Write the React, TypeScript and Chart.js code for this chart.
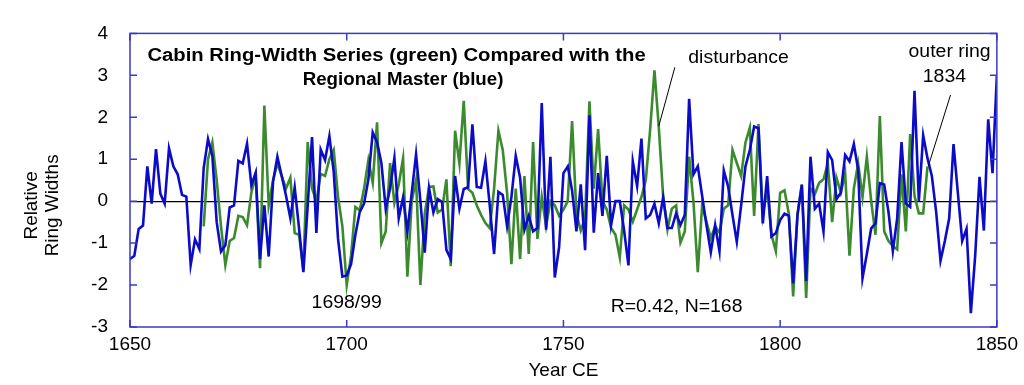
import React, { useEffect, useRef } from 'react';
import { Chart, registerables } from 'chart.js';

Chart.register(...registerables);

// Regional master chronology (blue), 1650-1850
const BLUE_START_YEAR = 1650;
const masterBlue = [
  -1.38, -1.3, -0.66, -0.58, 0.83, -0.06, 1.24, 0.18, -0.06, 1.26,
  0.83, 0.64, 0.15, 0.11, -1.52, -0.91, -1.14, 0.79, 1.48, 1.08,
  -0.5, -1.2, -1.05, -0.15, -0.1, 0.96, 0.9, 1.37, 0.38, 0.68,
  -1.38, -0.1, -1.32, 0.46, 1.06, 0.6, 0.13, -0.41, 0.33, -0.64,
  -1.69, -0.1, 1.53, -0.76, 1.23, 0.98, 1.55, 0.7, -0.9, -1.8,
  -1.77, -1.5, -0.8, -0.26, -0.06, 0.52, 1.64, 1.4, 0.91, -0.18,
  0.3, 1.03, -0.41, 0.09, -0.72, 0.2, 1.12, 0.0, -1.23, 0.31,
  -0.27, 0.05, -0.02, -1.16, -1.38, 0.6, -0.18, 0.29, 0.33, 1.83,
  0.34, 0.32, 0.95, -0.1, -1.26, 0.22, 0.15, -0.6, 0.1, 1.08,
  0.56, -0.68, -0.35, -0.72, -0.64, 2.34, -0.68, 1.06, -1.82, -1.1,
  0.67, 0.83, 0.25, -0.72, 0.4, -1.17, 2.05, -0.75, 0.67, -0.35,
  1.08, -0.57, 0.0, 0.0, -0.7, -1.53, 0.95, 0.36, 1.49, -0.41,
  -0.33, -0.06, -0.53, 0.09, -0.64, -0.64, -0.29, -0.57, -0.33, 2.44,
  0.64, 0.83, 0.13, -0.57, -1.22, -0.57, -1.19, 0.73, 0.35, -0.33,
  -0.97, -0.1, 0.83, 1.22, 1.78, 1.74, -0.53, 0.6, -0.84, -0.76,
  -0.45, -0.3, -0.35, -1.96, -0.33, 0.39, -1.9, 1.06, -0.18, -0.06,
  -0.72, 1.17, 0.98, 0.05, 0.2, 1.1, 0.95, 1.36, 0.75, -1.84,
  -1.26, -0.65, -0.53, 0.43, 0.4, -0.26, -1.19, -0.41, 1.41, -0.06,
  -0.14, 2.63, 0.0, 1.57, 1.02, 0.6, -0.26, -1.42, -0.95, -0.41,
  1.36, 0.2, -0.95, -0.66, -2.67, -1.3, 0.58, -0.7, 1.95, 0.67,
  3.0,
];

// Cabin ring-width series (green), 1667-1834
const GREEN_START_YEAR = 1667;
const cabinGreen = [
  -0.6, 1.0, 1.4,
  0.5, -0.6, -1.52, -0.95, -0.88, -0.35, -0.38, -0.57, 0.2, 0.6,
  -1.6, 2.28, -0.1, 0.5, 0.9, 0.6, 0.3, 0.56, -0.76, -0.8,
  -1.65, 1.41, 0.3, 0.0, 0.65, 0.6, 1.0, 1.22, 0.1, -0.6,
  -2.0, -1.3, -0.14, -0.22, 0.3, 0.98, 0.44, 1.88, -1.0, -0.72,
  0.91, -0.04, 0.4, 1.02, -1.8, 0.0, 0.5, -2.0, -0.3, 0.34,
  0.35, -0.27, -0.2, 0.52, -1.55, 1.68, 0.9, 2.39, 0.29, 0.2,
  -0.1, -0.33, -0.52, -0.64, 0.3, 1.68, 1.22, 0.2, -1.5, 0.3,
  -1.38, 0.6, -1.26, 1.41, -0.9, 0.1, -0.6, 0.0, -0.1, -0.35,
  -0.2, 0.0, 1.91, -0.3, -0.7, -0.4, 2.38, 0.3, 1.72, 0.0,
  -0.2, -0.64, -0.8, -1.34, -0.1, -0.2, -0.49, -0.2, 0.1, 0.5,
  1.7, 3.12, 1.76, 0.13, -0.68, -0.18, -0.1, -0.99, -0.72, 1.06,
  -0.02, -1.69, -0.1, -0.49, -0.88, -0.6, -0.75, -0.18, -0.1, 1.22,
  0.91, 0.6, 1.4, 1.75, -0.35, 1.84, -0.33, 0.3, -0.8, -1.19,
  0.2, 0.26, -0.3, -2.27, -0.3, 0.4, -2.31, 0.3, 0.17, 0.44,
  0.52, 0.9, -0.5, 0.56, 0.2, 0.66, -1.3, 0.3, 0.9, 0.1,
  1.06, 0.0, -0.8, 2.03, -0.72, -0.95, -1.07, -1.15, 0.64, -0.72,
  1.6, 0.13, -0.29, -0.29, 0.83,
];

const xTickValues = [1650, 1700, 1750, 1800, 1850];
const yTickValues = [-3, -2, -1, 0, 1, 2, 3, 4];

const titleLines = [
  'Cabin Ring-Width Series (green) Compared with the',
  'Regional Master (blue)',
];
const statsLabel = 'R=0.42, N=168';
const eventLabel = '1698/99';
const disturbanceLabel = 'disturbance';
const outerRingLines = ['outer ring', '1834'];
const xAxisTitle = 'Year CE';
const yAxisTitle = ['Relative', 'Ring Widths'];

const FONT = '"Liberation Sans", Arial, Helvetica, sans-serif';
const BLUE = '#0c0cc8';
const GREEN = '#3b8a2e';
const FRAME = '#3a3ac8';

const toPoints = (start: number, vals: number[]) =>
  vals.map((v, i) => ({ x: start + i, y: v }));

const decorPlugin = {
  id: 'decor',
  afterDraw(chart: any) {
    const { ctx, chartArea } = chart;
    const { left, right, top, bottom } = chartArea;
    const xs = chart.scales.x;
    const ys = chart.scales.y;
    ctx.save();
    // frame
    ctx.strokeStyle = FRAME;
    ctx.lineWidth = 1.5;
    ctx.strokeRect(left, top, right - left, bottom - top);
    // inward ticks
    ctx.beginPath();
    for (const v of xTickValues) {
      const px = xs.getPixelForValue(v);
      ctx.moveTo(px, top);
      ctx.lineTo(px, top + 7);
      ctx.moveTo(px, bottom);
      ctx.lineTo(px, bottom - 7);
    }
    for (const v of yTickValues) {
      const py = ys.getPixelForValue(v);
      ctx.moveTo(left, py);
      ctx.lineTo(left + 7, py);
      ctx.moveTo(right, py);
      ctx.lineTo(right - 7, py);
    }
    ctx.stroke();

    const text = (s: string, xv: number, yv: number, font: string, sx = 1.08) => {
      const px = xs.getPixelForValue(xv);
      const py = ys.getPixelForValue(yv);
      ctx.save();
      ctx.translate(px, py);
      ctx.scale(sx, 1);
      ctx.font = font;
      ctx.fillStyle = '#000';
      ctx.textAlign = 'center';
      ctx.textBaseline = 'middle';
      ctx.fillText(s, 0, 0);
      ctx.restore();
    };
    const line = (x1: number, y1: number, x2: number, y2: number) => {
      ctx.save();
      ctx.strokeStyle = '#000';
      ctx.lineWidth = 1;
      ctx.beginPath();
      ctx.moveTo(xs.getPixelForValue(x1), ys.getPixelForValue(y1));
      ctx.lineTo(xs.getPixelForValue(x2), ys.getPixelForValue(y2));
      ctx.stroke();
      ctx.restore();
    };

    const bold = `bold 18px ${FONT}`;
    const reg = `18px ${FONT}`;
    text(titleLines[0], 1711.5, 3.46, bold, 1.125);
    text(titleLines[1], 1713, 2.9, bold, 1.04);
    text(disturbanceLabel, 1790.4, 3.42, reg);
    line(1775.7, 3.19, 1772.0, 1.79);
    text(outerRingLines[0], 1839.1, 3.56, reg);
    text(outerRingLines[1], 1837.9, 2.95, reg);
    line(1839.3, 2.53, 1834.2, 0.84);
    text(eventLabel, 1700, -2.42, reg);
    text(statsLabel, 1776.1, -2.53, reg);

    // y axis title (two rotated lines)
    const cy = ys.getPixelForValue(-0.1);
    yAxisTitle.forEach((s, i) => {
      ctx.save();
      ctx.translate(32 + i * 21, cy);
      ctx.rotate(-Math.PI / 2);
      ctx.scale(1.05, 1);
      ctx.font = reg;
      ctx.fillStyle = '#000';
      ctx.textAlign = 'center';
      ctx.textBaseline = 'middle';
      ctx.fillText(s, 0, 0);
      ctx.restore();
    });
    ctx.restore();
  },
};

export default function App() {
  const canvasRef = useRef<HTMLCanvasElement | null>(null);

  useEffect(() => {
    const canvas = canvasRef.current;
    if (!canvas) return;
    const chart = new Chart(canvas, {
      type: 'line',
      data: {
        datasets: [
          {
            label: 'Regional Master',
            data: toPoints(BLUE_START_YEAR, masterBlue),
            borderColor: BLUE,
            borderWidth: 2.6,
            pointRadius: 0,
            tension: 0,
            fill: false,
            order: 0,
          },
          {
            label: 'Cabin',
            data: toPoints(GREEN_START_YEAR, cabinGreen),
            borderColor: GREEN,
            borderWidth: 2.6,
            pointRadius: 0,
            tension: 0,
            fill: false,
            order: 1,
          },
        ],
      },
      options: {
        responsive: false,
        animation: false,
        devicePixelRatio: 1,
        layout: { padding: { left: 0, right: 27, top: 26, bottom: 0 } },
        plugins: {
          legend: { display: false },
          tooltip: { enabled: false },
          title: { display: false },
        },
        scales: {
          x: {
            type: 'linear',
            min: 1650,
            max: 1850,
            afterFit: (s: any) => {
              s.height = 58;
            },
            afterBuildTicks: (s: any) => {
              s.ticks = xTickValues.map((v) => ({ value: v }));
            },
            border: { display: false },
            grid: { display: false, drawTicks: false },
            ticks: {
              color: '#000',
              font: { family: FONT, size: 19 },
              padding: 6,
              maxRotation: 0,
              callback: (v: any) => String(v),
            },
            title: {
              display: true,
              text: xAxisTitle,
              color: '#000',
              font: { family: FONT, size: 19 },
              padding: { top: 0, bottom: 3 },
            },
          },
          y: {
            type: 'linear',
            min: -3,
            max: 4,
            afterFit: (s: any) => {
              s.width = 130;
            },
            afterBuildTicks: (s: any) => {
              s.ticks = yTickValues.map((v) => ({ value: v }));
            },
            border: { display: false },
            grid: {
              drawTicks: false,
              color: (c: any) => (c.tick && c.tick.value === 0 ? '#000' : 'rgba(0,0,0,0)'),
              lineWidth: 1.2,
            },
            ticks: {
              color: '#000',
              font: { family: FONT, size: 19 },
              padding: 22,
              callback: (v: any) => String(v),
            },
            title: { display: false },
          },
        },
      },
      plugins: [decorPlugin],
    } as any);
    return () => chart.destroy();
  }, []);

  return (
    <div style={{ position: 'absolute', left: 0, top: 0, width: 1024, height: 385, background: '#fff' }}>
      <canvas ref={canvasRef} width={1024} height={385} />
    </div>
  );
}
